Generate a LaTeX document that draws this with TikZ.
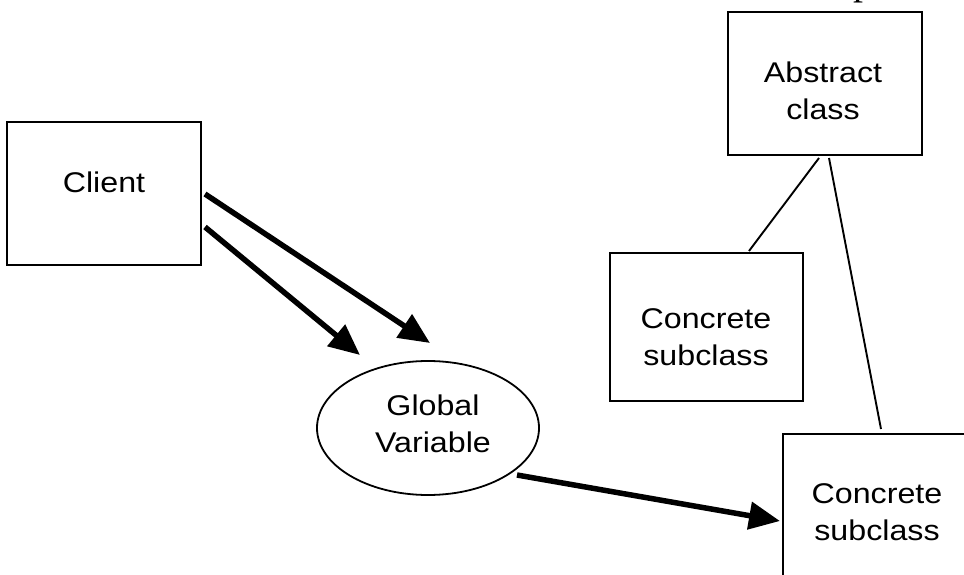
\documentclass[tikz,border=0pt]{standalone}
\usepackage{fontspec}
\setmainfont{Liberation Sans}
\newfontfamily\lblfont[FakeStretch=1.13]{Liberation Sans}
\newfontfamily\serifpart{Liberation Serif}
\usetikzlibrary{arrows.meta,shapes.geometric,calc}

\begin{document}
\begin{tikzpicture}[x=1pt,y=-1pt,
  box/.style={draw, line width=2pt, minimum width=194pt, minimum height=143pt, inner sep=0pt},
  gvar/.style={draw, ellipse, line width=1.8pt, minimum width=222pt, minimum height=134pt, inner sep=0pt},
  lbl/.style={font=\lblfont\fontsize{28.5}{37}\selectfont, align=center, inner sep=0pt, anchor=base},
  arr/.style={line width=5.5pt, -{Triangle[length=31pt,width=27pt]}},
  link/.style={line width=1.9pt}]

% page
\fill[white] (0,0) rectangle (964,575);
\useasboundingbox (0,0) rectangle (964,575);

% descender of a letter from the line above, cut by the page edge
\node[font=\serifpart\fontsize{40}{44}\selectfont, inner sep=0pt, anchor=base west] (topfrag) at (853,-5) {p};

% boxes and the ellipse
\node[box] (client) at (104,193.5) {};
\node[box] (abs) at (825,83.5) {};
\node[box, minimum width=193pt, minimum height=148pt] (cs1) at (706.5,327) {};
\node[box, minimum height=148pt, anchor=north west] (cs2) at (782,433) {};
\node[gvar] (gv) at (428,428) {};

% labels (base anchor = baseline of the last line)
\node[lbl] (clientText) at (104,192) {Client};
\node[lbl] (absText) at (823,120) {Abstract\\class};
\node[lbl] (cs1Text) at (706,365) {Concrete\\subclass};
\node[lbl] (cs2Text) at (877,540) {Concrete\\subclass};
\node[lbl] (gvText) at (433,452) {Global\\Variable};

% connector end points
\coordinate (a1s) at ($(client.east)+(3,0.5)$);
\coordinate (a1e) at ($(gv.center)+(2,-85)$);
\coordinate (a2s) at ($(client.east)+(3,33.5)$);
\coordinate (a2e) at ($(gv.center)+(-68,-73)$);
\coordinate (a3s) at ($(gv.center)+(89,47)$);
\coordinate (a3e) at ($(cs2.west)+(-2,13)$);
\coordinate (l1s) at ($(abs.south)+(-6,2)$);
\coordinate (l1e) at ($(cs1.north)+(42.5,-1)$);
\coordinate (l2s) at ($(abs.south)+(4,2)$);
\coordinate (l2e) at ($(cs2.north)+(1,-4)$);

% connectors
\draw[arr] (a1s) -- (a1e);
\draw[arr] (a2s) -- (a2e);
\draw[arr] (a3s) -- (a3e);
\draw[link] (l1s) -- (l1e);
\draw[link] (l2s) -- (l2e);
\end{tikzpicture}
\end{document}
